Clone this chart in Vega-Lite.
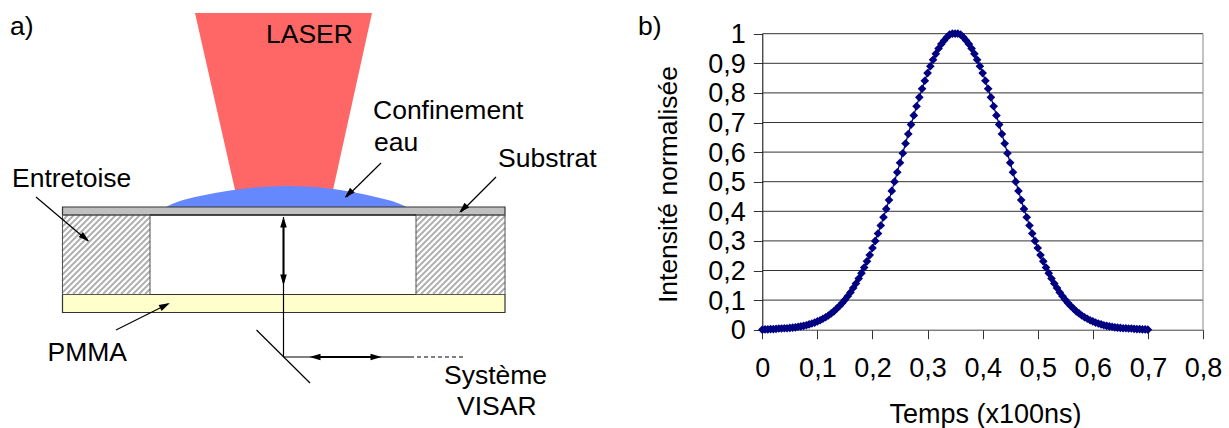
{"$schema":"https://vega.github.io/schema/vega-lite/v6.json","width":1229,"height":428,"padding":0,"autosize":"none","background":"white","config":{"view":{"stroke":null},"font":"Liberation Sans"},
"datasets":{
"hatch":[{"x":62,"y":221,"x2":68,"y2":215},{"x":62,"y":227,"x2":74,"y2":215},{"x":62,"y":233,"x2":80,"y2":215},{"x":62,"y":239,"x2":86,"y2":215},{"x":62,"y":245,"x2":92,"y2":215},{"x":62,"y":251,"x2":98,"y2":215},{"x":62,"y":257,"x2":104,"y2":215},{"x":62,"y":263,"x2":110,"y2":215},{"x":62,"y":269,"x2":116,"y2":215},{"x":62,"y":275,"x2":122,"y2":215},{"x":62,"y":281,"x2":128,"y2":215},{"x":62,"y":287,"x2":134,"y2":215},{"x":62,"y":293,"x2":140,"y2":215},{"x":67,"y":294,"x2":146,"y2":215},{"x":73,"y":294,"x2":150,"y2":217},{"x":79,"y":294,"x2":150,"y2":223},{"x":85,"y":294,"x2":150,"y2":229},{"x":91,"y":294,"x2":150,"y2":235},{"x":97,"y":294,"x2":150,"y2":241},{"x":103,"y":294,"x2":150,"y2":247},{"x":109,"y":294,"x2":150,"y2":253},{"x":115,"y":294,"x2":150,"y2":259},{"x":121,"y":294,"x2":150,"y2":265},{"x":127,"y":294,"x2":150,"y2":271},{"x":133,"y":294,"x2":150,"y2":277},{"x":139,"y":294,"x2":150,"y2":283},{"x":145,"y":294,"x2":150,"y2":289},
{"x":416,"y":221,"x2":422,"y2":215},{"x":416,"y":227,"x2":428,"y2":215},{"x":416,"y":233,"x2":434,"y2":215},{"x":416,"y":239,"x2":440,"y2":215},{"x":416,"y":245,"x2":446,"y2":215},{"x":416,"y":251,"x2":452,"y2":215},{"x":416,"y":257,"x2":458,"y2":215},{"x":416,"y":263,"x2":464,"y2":215},{"x":416,"y":269,"x2":470,"y2":215},{"x":416,"y":275,"x2":476,"y2":215},{"x":416,"y":281,"x2":482,"y2":215},{"x":416,"y":287,"x2":488,"y2":215},{"x":416,"y":293,"x2":494,"y2":215},{"x":421,"y":294,"x2":500,"y2":215},{"x":427,"y":294,"x2":505,"y2":216},{"x":433,"y":294,"x2":505,"y2":222},{"x":439,"y":294,"x2":505,"y2":228},{"x":445,"y":294,"x2":505,"y2":234},{"x":451,"y":294,"x2":505,"y2":240},{"x":457,"y":294,"x2":505,"y2":246},{"x":463,"y":294,"x2":505,"y2":252},{"x":469,"y":294,"x2":505,"y2":258},{"x":475,"y":294,"x2":505,"y2":264},{"x":481,"y":294,"x2":505,"y2":270},{"x":487,"y":294,"x2":505,"y2":276},{"x":493,"y":294,"x2":505,"y2":282},{"x":499,"y":294,"x2":505,"y2":288}],
"curve":[{"t":0,"i":0},{"t":0.005,"i":0.001},{"t":0.01,"i":0.001},{"t":0.015,"i":0.002},{"t":0.02,"i":0.002},{"t":0.025,"i":0.003},{"t":0.03,"i":0.004},{"t":0.035,"i":0.004},{"t":0.04,"i":0.005},{"t":0.045,"i":0.005},{"t":0.05,"i":0.006},{"t":0.055,"i":0.007},{"t":0.06,"i":0.008},{"t":0.065,"i":0.01},{"t":0.07,"i":0.011},{"t":0.075,"i":0.013},{"t":0.08,"i":0.015},{"t":0.085,"i":0.018},{"t":0.09,"i":0.021},{"t":0.095,"i":0.024},{"t":0.1,"i":0.028},{"t":0.105,"i":0.032},{"t":0.11,"i":0.037},{"t":0.115,"i":0.042},{"t":0.12,"i":0.048},{"t":0.125,"i":0.055},{"t":0.13,"i":0.062},{"t":0.135,"i":0.071},{"t":0.14,"i":0.08},{"t":0.145,"i":0.09},{"t":0.15,"i":0.101},{"t":0.155,"i":0.113},{"t":0.16,"i":0.126},{"t":0.165,"i":0.141},{"t":0.17,"i":0.156},{"t":0.175,"i":0.173},{"t":0.18,"i":0.191},{"t":0.185,"i":0.21},{"t":0.19,"i":0.231},{"t":0.195,"i":0.252},{"t":0.2,"i":0.276},{"t":0.205,"i":0.3},{"t":0.21,"i":0.325},{"t":0.215,"i":0.352},{"t":0.22,"i":0.38},{"t":0.225,"i":0.408},{"t":0.23,"i":0.438},{"t":0.235,"i":0.469},{"t":0.24,"i":0.5},{"t":0.245,"i":0.532},{"t":0.25,"i":0.564},{"t":0.255,"i":0.596},{"t":0.26,"i":0.629},{"t":0.265,"i":0.661},{"t":0.27,"i":0.693},{"t":0.275,"i":0.724},{"t":0.28,"i":0.755},{"t":0.285,"i":0.785},{"t":0.29,"i":0.814},{"t":0.295,"i":0.841},{"t":0.3,"i":0.867},{"t":0.305,"i":0.89},{"t":0.31,"i":0.912},{"t":0.315,"i":0.932},{"t":0.32,"i":0.95},{"t":0.325,"i":0.965},{"t":0.33,"i":0.977},{"t":0.335,"i":0.988},{"t":0.34,"i":0.997},{"t":0.345,"i":1},{"t":0.35,"i":1},{"t":0.355,"i":1},{"t":0.36,"i":0.997},{"t":0.365,"i":0.988},{"t":0.37,"i":0.977},{"t":0.375,"i":0.965},{"t":0.38,"i":0.95},{"t":0.385,"i":0.932},{"t":0.39,"i":0.912},{"t":0.395,"i":0.89},{"t":0.4,"i":0.867},{"t":0.405,"i":0.841},{"t":0.41,"i":0.814},{"t":0.415,"i":0.785},{"t":0.42,"i":0.755},{"t":0.425,"i":0.724},{"t":0.43,"i":0.693},{"t":0.435,"i":0.661},{"t":0.44,"i":0.629},{"t":0.445,"i":0.596},{"t":0.45,"i":0.564},{"t":0.455,"i":0.532},{"t":0.46,"i":0.5},{"t":0.465,"i":0.469},{"t":0.47,"i":0.438},{"t":0.475,"i":0.408},{"t":0.48,"i":0.38},{"t":0.485,"i":0.352},{"t":0.49,"i":0.325},{"t":0.495,"i":0.3},{"t":0.5,"i":0.276},{"t":0.505,"i":0.252},{"t":0.51,"i":0.231},{"t":0.515,"i":0.21},{"t":0.52,"i":0.191},{"t":0.525,"i":0.173},{"t":0.53,"i":0.156},{"t":0.535,"i":0.141},{"t":0.54,"i":0.126},{"t":0.545,"i":0.113},{"t":0.55,"i":0.101},{"t":0.555,"i":0.09},{"t":0.56,"i":0.08},{"t":0.565,"i":0.071},{"t":0.57,"i":0.062},{"t":0.575,"i":0.055},{"t":0.58,"i":0.048},{"t":0.585,"i":0.042},{"t":0.59,"i":0.037},{"t":0.595,"i":0.032},{"t":0.6,"i":0.028},{"t":0.605,"i":0.024},{"t":0.61,"i":0.021},{"t":0.615,"i":0.018},{"t":0.62,"i":0.015},{"t":0.625,"i":0.013},{"t":0.63,"i":0.011},{"t":0.635,"i":0.01},{"t":0.64,"i":0.008},{"t":0.645,"i":0.007},{"t":0.65,"i":0.006},{"t":0.655,"i":0.005},{"t":0.66,"i":0.005},{"t":0.665,"i":0.004},{"t":0.67,"i":0.004},{"t":0.675,"i":0.003},{"t":0.68,"i":0.002},{"t":0.685,"i":0.002},{"t":0.69,"i":0.001},{"t":0.695,"i":0.001},{"t":0.7,"i":0}]
},
"resolve":{"scale":{"x":"independent","y":"independent"},"axis":{"x":"independent","y":"independent"}},
"layer":[
{"encoding":{"x":{"field":"x","type":"quantitative","axis":null,"scale":{"domain":[0,1229],"nice":false,"zero":false}},"y":{"field":"y","type":"quantitative","axis":null,"scale":{"domain":[428,0],"nice":false,"zero":false}}},
"layer":[
{"data":{"values":[{"x":195,"x2":372,"y":13},{"x":235,"x2":333,"y":190}]},"mark":{"type":"area","orient":"horizontal","color":"#ff6666"},"encoding":{"x2":{"field":"x2"}}},
{"data":{"values":[{"x":166,"y":207,"y2":207},{"x":172,"y":204,"y2":207},{"x":180,"y":201,"y2":207},{"x":190,"y":198.3,"y2":207},{"x":200,"y":196,"y2":207},{"x":215,"y":193,"y2":207},{"x":230,"y":190.5,"y2":207},{"x":250,"y":188,"y2":207},{"x":270,"y":186.5,"y2":207},{"x":286,"y":186,"y2":207},{"x":305,"y":186.5,"y2":207},{"x":325,"y":188,"y2":207},{"x":345,"y":190.8,"y2":207},{"x":365,"y":194.5,"y2":207},{"x":380,"y":198,"y2":207},{"x":392,"y":201,"y2":207},{"x":400,"y":204,"y2":207},{"x":407,"y":207,"y2":207}]},"mark":{"type":"area","color":"#6688ff","interpolate":"monotone"},"encoding":{"y2":{"field":"y2"}}},
{"data":{"name":"hatch"},"mark":{"type":"rule","color":"#b0b0b0","strokeWidth":2},"encoding":{"x2":{"field":"x2"},"y2":{"field":"y2"}}},
{"data":{"values":[{"part":"Substrat","x":62.5,"x2":505,"y":207,"y2":215},{"part":"PMMA","x":62.5,"x2":505,"y":294.5,"y2":312.5}]},"mark":{"type":"rect","stroke":"#333333","strokeWidth":1.2},"encoding":{"x2":{"field":"x2"},"y2":{"field":"y2"},"fill":{"field":"part","type":"nominal","legend":null,"scale":{"domain":["Substrat","PMMA"],"range":["#c0c0c0","#ffffcc"]}}}},
{"data":{"values":[{"x":62.5,"x2":150,"y":215,"y2":294.5},{"x":416,"x2":505,"y":215,"y2":294.5}]},"mark":{"type":"rect","fillOpacity":0,"stroke":"#555555","strokeWidth":1},"encoding":{"x2":{"field":"x2"},"y2":{"field":"y2"}}},
{"data":{"values":[{"x":150,"x2":416,"y":215,"y2":215}]},"mark":{"type":"rule","color":"#000000","strokeWidth":1.2},"encoding":{"x2":{"field":"x2"},"y2":{"field":"y2"}}},
{"data":{"values":[{"x":36,"y":197,"x2":88,"y2":241},{"x":381,"y":163,"x2":346.5,"y2":197},{"x":496,"y":177,"x2":461,"y2":212},{"x":116,"y":330,"x2":168,"y2":304},{"x":283.5,"y":217,"x2":283.5,"y2":357},{"x":283.5,"y":357,"x2":410,"y2":357},{"x":256.5,"y":330,"x2":310,"y2":383}]},"mark":{"type":"rule","color":"#000000","strokeWidth":1.2},"encoding":{"x2":{"field":"x2"},"y2":{"field":"y2"}}},
{"data":{"values":[{"x":283.5,"y":222,"x2":283.5,"y2":282},{"x":314,"y":357,"x2":377,"y2":357}]},"mark":{"type":"rule","color":"#000000","strokeWidth":2},"encoding":{"x2":{"field":"x2"},"y2":{"field":"y2"}}},
{"data":{"values":[{"x":410,"y":357,"x2":466,"y2":357}]},"mark":{"type":"rule","color":"#000000","strokeWidth":1,"strokeDash":[4,3]},"encoding":{"x2":{"field":"x2"},"y2":{"field":"y2"}}},
{"data":{"values":[{"x":85,"y":238,"dir":130},{"x":348.5,"y":194,"dir":225},{"x":463,"y":209,"dir":225},{"x":165,"y":305.5,"dir":63},{"x":283.5,"y":222,"dir":0},{"x":283.5,"y":280,"dir":180},{"x":315,"y":357,"dir":270},{"x":376,"y":357,"dir":90}]},"mark":{"type":"point","shape":"M0,-1L0.6,1L-0.6,1Z","filled":true,"color":"#000000","opacity":1,"size":120},"encoding":{"angle":{"field":"dir","type":"quantitative","scale":null}}},
{"data":{"values":[{"x":10,"y":35,"label":"a)"},{"x":638,"y":35,"label":"b)"},{"x":266,"y":43,"label":"LASER"},{"x":373,"y":119,"label":"Confinement"},{"x":374,"y":151,"label":"eau"},{"x":498,"y":167,"label":"Substrat"},{"x":12,"y":187,"label":"Entretoise"},{"x":47.5,"y":361,"label":"PMMA"},{"x":444,"y":384,"label":"Système"},{"x":457,"y":415,"label":"VISAR"}]},"mark":{"type":"text","align":"left","baseline":"alphabetic","font":"Liberation Sans","fontSize":26.5,"color":"#000000"},"encoding":{"text":{"field":"label","type":"nominal"}}}
]},
{"layer":[
{"data":{"values":[{"g":0.1,"a":0,"b":0.8},{"g":0.2,"a":0,"b":0.8},{"g":0.3,"a":0,"b":0.8},{"g":0.4,"a":0,"b":0.8},{"g":0.5,"a":0,"b":0.8},{"g":0.6,"a":0,"b":0.8},{"g":0.7,"a":0,"b":0.8},{"g":0.8,"a":0,"b":0.8},{"g":0.9,"a":0,"b":0.8},{"g":1,"a":0,"b":0.8}]},"mark":{"type":"rule","color":"#333333","strokeWidth":1},"encoding":{"x":{"field":"a","type":"quantitative","scale":{"domain":[0,0.8],"range":[762.3,1203],"nice":false,"zero":false},"axis":{"title":"Temps (x100ns)","values":[0,0.1,0.2,0.3,0.4,0.5,0.6,0.7,0.8],"offset":-98.3,"grid":false,"domainColor":"#444444","tickColor":"#333333","tickSize":9,"labelFont":"Liberation Sans","labelFontSize":27,"labelColor":"#000000","labelPadding":17,"labelOverlap":false,"labelFlush":false,"labelBound":false,"labelExpr":"replace(format(datum.value,'~g'),'.',',')","titleFont":"Liberation Sans","titleFontSize":27,"titleFontWeight":"normal","titleColor":"#000000","titlePadding":20,"titleX":985}},"x2":{"field":"b"},"y":{"field":"g","type":"quantitative","scale":{"domain":[0,1],"range":[329.7,33.7],"nice":false,"zero":false},"axis":{"title":"Intensité normalisée","values":[0,0.1,0.2,0.3,0.4,0.5,0.6,0.7,0.8,0.9,1],"offset":-762.3,"grid":false,"domainColor":"#000000","tickColor":"#333333","tickSize":9,"labelFont":"Liberation Sans","labelFontSize":27,"labelColor":"#000000","labelPadding":8,"labelOffset":1,"labelOverlap":false,"labelFlush":false,"labelBound":false,"labelExpr":"replace(format(datum.value,'~g'),'.',',')","titleFont":"Liberation Sans","titleFontSize":26.5,"titleFontWeight":"normal","titleColor":"#000000","titlePadding":25,"titleY":184}}}},
{"data":{"values":[{"b":0.8,"s":0,"t":1}]},"mark":{"type":"rule","color":"#888888","strokeWidth":1},"encoding":{"x":{"field":"b","type":"quantitative"},"y":{"field":"s","type":"quantitative"},"y2":{"field":"t"}}},
{"data":{"name":"curve"},"mark":{"type":"line","color":"#000080","strokeWidth":1.3},"encoding":{"x":{"field":"t","type":"quantitative"},"y":{"field":"i","type":"quantitative"}}},
{"data":{"name":"curve"},"mark":{"type":"point","shape":"diamond","filled":true,"color":"#000080","opacity":1,"size":75},"encoding":{"x":{"field":"t","type":"quantitative"},"y":{"field":"i","type":"quantitative"}}}
]}
]}
